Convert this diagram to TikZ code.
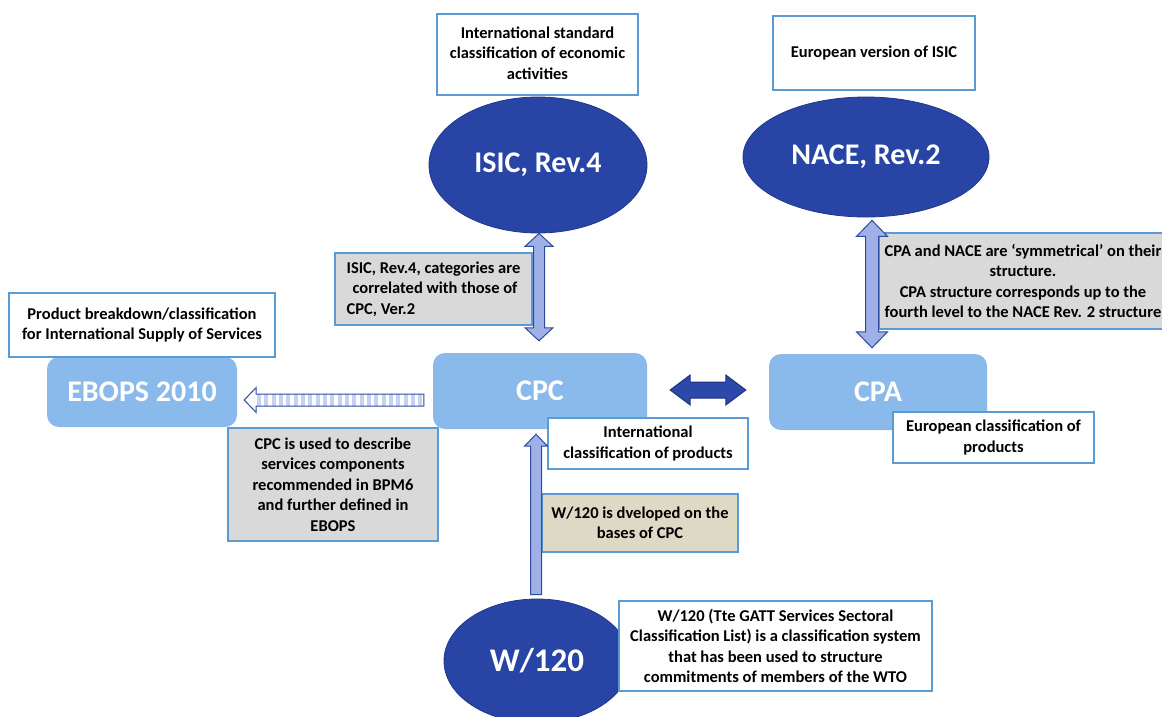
\documentclass[tikz,border=0pt]{standalone}
\usepackage{fontspec}
\setmainfont{Carlito}
\usetikzlibrary{calc,shapes.geometric}

\definecolor{ellfill}{RGB}{40,69,166}
\definecolor{ellline}{RGB}{32,55,140}
\definecolor{boxfill}{RGB}{138,185,236}
\definecolor{capline}{RGB}{91,155,213}
\definecolor{graybg}{RGB}{217,217,217}
\definecolor{tanbg}{RGB}{221,217,196}
\definecolor{lightarrow}{RGB}{158,176,230}
\definecolor{arrowline}{RGB}{47,74,158}
\definecolor{darkarrow}{RGB}{44,72,168}
\definecolor{darkline}{RGB}{30,50,130}
\definecolor{stripeblue}{RGB}{198,210,245}

\newcommand\capfnt{\fontsize{16.5}{20.5}\selectfont\bfseries}
\newcommand\titlefnt{\fontsize{30}{34}\selectfont\bfseries}

% block arrow from #2 to #3: style #1, half shaft #4, half head #5, head length #6
\newcommand\blockarrow[6]{%
  \coordinate (ba-h) at ($(#3)!#6!(#2)$);
  \draw[#1] ($(#2)!#4!90:(#3)$) -- ($(ba-h)!#4!-90:(#2)$) -- ($(ba-h)!#5!-90:(#2)$)
    -- (#3) -- ($(ba-h)!#5!90:(#2)$) -- ($(ba-h)!#4!90:(#2)$) -- ($(#2)!#4!-90:(#3)$) -- cycle;}
% two-headed block arrow between #2 and #3
\newcommand\dblockarrow[6]{%
  \coordinate (da-p) at ($(#2)!#6!(#3)$);
  \coordinate (da-q) at ($(#3)!#6!(#2)$);
  \draw[#1] (#2) -- ($(da-p)!#5!90:(#3)$) -- ($(da-p)!#4!90:(#3)$) -- ($(da-q)!#4!-90:(#2)$)
    -- ($(da-q)!#5!-90:(#2)$) -- (#3) -- ($(da-q)!#5!90:(#2)$) -- ($(da-q)!#4!90:(#2)$)
    -- ($(da-p)!#4!-90:(#3)$) -- ($(da-p)!#5!-90:(#3)$) -- cycle;}

\tikzset{
  x=1pt, y=-1pt,
  classell/.style={ellipse, draw=ellline, line width=0.8pt, fill=ellfill, text=white,
    font=\titlefnt, inner sep=0pt},
  classbox/.style={rectangle, rounded corners=12pt, fill=boxfill, text=white,
    font=\titlefnt, inner sep=0pt},
  note/.style={rectangle, draw=capline, line width=1.4pt, fill=white, inner sep=0pt,
    align=center, font=\capfnt},
  graynote/.style={note, fill=graybg},
  tannote/.style={note, fill=tanbg},
  lightarr/.style={fill=lightarrow, draw=arrowline, line width=1pt},
  darkarr/.style={fill=darkarrow, draw=darkline, line width=1pt},
  stripearr/.style={fill=white, draw=arrowline, line width=1pt,
    path picture={\foreach \i in {0,...,22}{\fill[stripeblue] ({257+7.33*\i},380) rectangle ++(4,40);}}},
}

\begin{document}
\begin{tikzpicture}
\fill[white] (0,0) rectangle (1162,717);
\useasboundingbox (0,0) rectangle (1162,717);

% classifications
\node[classell, minimum width=218pt, minimum height=136pt] (isic) at (538,165) {ISIC, Rev.4};
\node[classell, minimum width=246pt, minimum height=120pt] (nace) at (866,157) {NACE, Rev.2};
\node[classell, minimum width=186pt, minimum height=124pt, font=\fontsize{33}{37}\selectfont\bfseries] (w120) at (537,661) {W/120};
\node[classbox, minimum width=190pt, minimum height=70pt] (ebops) at (142,392) {EBOPS 2010};
\node[classbox, minimum width=214pt, minimum height=76pt] (cpc) at (540,391) {CPC};
\node[classbox, minimum width=218pt, minimum height=76pt] (cpa) at (878,392) {CPA};

% descriptions
\node[note, minimum width=201pt, minimum height=81pt] (isicnote) at (537.5,54.5)
  {\raisebox{4pt}{\begin{tabular}{@{}c@{}}International standard\\classification of economic\\activities\end{tabular}}};
\node[note, minimum width=202pt, minimum height=74pt] (nacenote) at (874,53)
  {European version of ISIC};
\node[note, minimum width=266pt, minimum height=64pt] (ebopsnote) at (142,325)
  {Product breakdown/classification\\for International Supply of Services};
\node[note, minimum width=200pt, minimum height=51pt] (cpcnote) at (648,443.5)
  {International\\classification of products};
\node[note, minimum width=201pt, minimum height=51pt] (cpanote) at (993.5,437.5)
  {European classification of\\products};
\node[note, minimum width=313pt, minimum height=90pt] (w120note) at (775.5,646)
  {W/120 (Tte GATT Services Sectoral\\Classification List) is a classification system\\that has been used to structure\\commitments of members of the WTO};

% relation notes
\node[graynote, minimum width=197pt, minimum height=72pt, align=left] (isiccpc) at (433.5,289)
  {ISIC, Rev.4, categories are\\\hspace*{6pt}correlated with those of\\CPC, Ver.2};
\node[graynote, minimum width=288pt, minimum height=96pt] (nacecpa) at (1023,281)
  {CPA and NACE are ‘symmetrical’ on their\\structure.\\CPA structure corresponds up to the\\fourth level to the NACE Rev. 2 structure};
\node[graynote, minimum width=210pt, minimum height=113pt] (cpcebops) at (333,484.5)
  {CPC is used to describe\\services components\\recommended in BPM6\\and further defined in\\EBOPS};
\node[tannote, minimum width=196pt, minimum height=58pt] (w120cpc) at (640,523)
  {W/120 is dveloped on the\\bases of CPC};

% arrow end points
\coordinate (a1) at ($(isic.south)+(1,0)$);
\coordinate (a2) at ($(cpc.north)+(-1,-12)$);
\coordinate (b1) at ($(nace.south)+(6,3)$);
\coordinate (b2) at ($(cpa.north)+(-6,-6)$);
\coordinate (c1) at ($(cpc.east)+(23,-1)$);
\coordinate (c2) at ($(cpa.west)+(-23,-2)$);
\coordinate (d1) at ($(w120.north)+(-1,-4)$);
\coordinate (d2) at ($(cpc.south)+(-4,5)$);
\coordinate (e1) at ($(cpc.west)+(-9,9)$);
\coordinate (e2) at ($(ebops.east)+(7,8)$);

% connectors
\dblockarrow{lightarr}{a1}{a2}{5.5pt}{14pt}{13pt}
\dblockarrow{lightarr}{b1}{b2}{6.5pt}{15.5pt}{16pt}
\dblockarrow{darkarr}{c1}{c2}{8pt}{15pt}{20pt}
\blockarrow{lightarr}{d1}{d2}{5.5pt}{11.5pt}{12pt}
\blockarrow{stripearr}{e1}{e2}{6pt}{12.5pt}{12pt}
\end{tikzpicture}
\end{document}
